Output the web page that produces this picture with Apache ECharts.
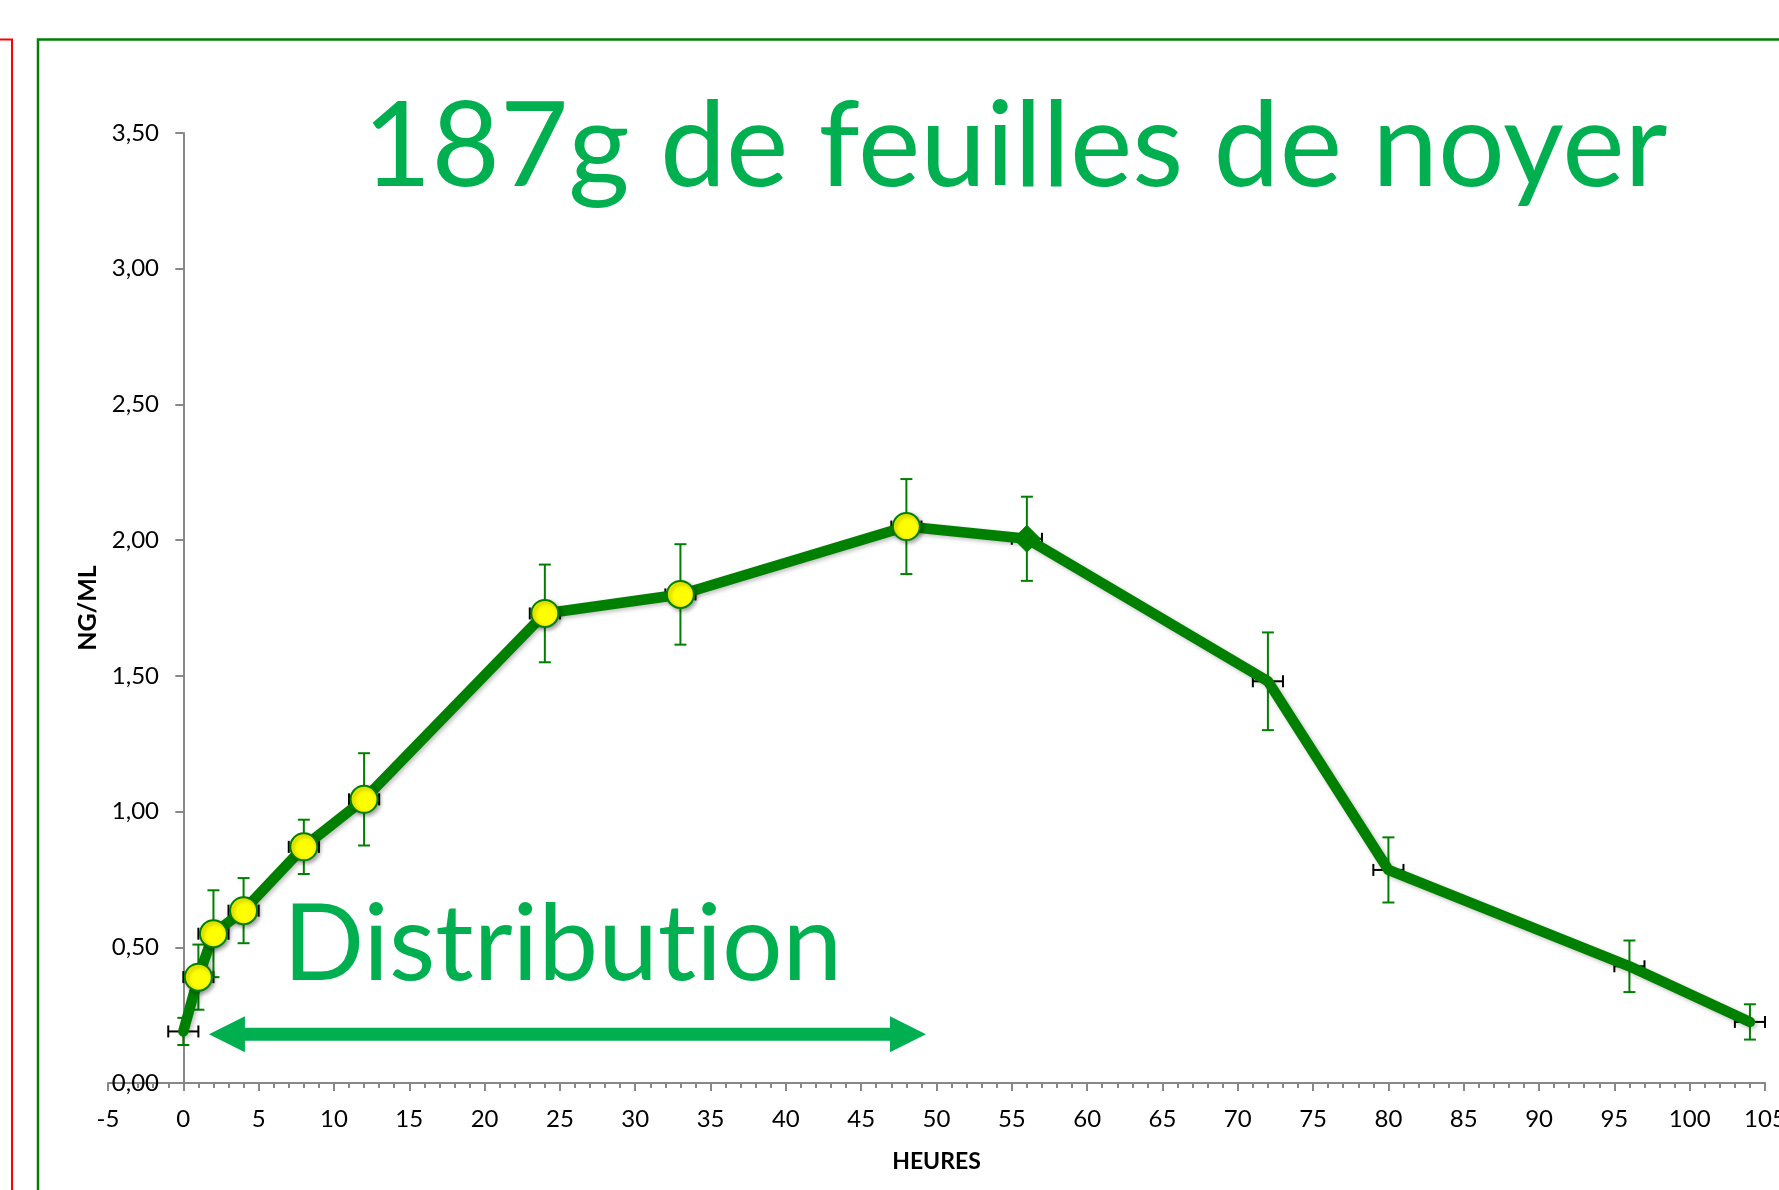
<!DOCTYPE html>
<html>
<head>
<meta charset="utf-8">
<script src="https://cdn.jsdelivr.net/npm/echarts@6/dist/echarts.min.js"></script>
<style>
  html, body { margin: 0; padding: 0; background: #fff; }
  #chart { width: 1779px; height: 1190px; }
</style>
</head>
<body>
<div id="chart"></div>
<script>
// données
var hours = [0, 1, 2, 4, 8, 12, 24, 33, 48, 56, 72, 80, 96, 104];
var conc = [0.19, 0.39, 0.55, 0.635, 0.87, 1.045, 1.73, 1.80, 2.05, 2.005, 1.48, 0.785, 0.43, 0.225];
var errConc = [0.05, 0.12, 0.16, 0.12, 0.10, 0.17, 0.18, 0.185, 0.175, 0.155, 0.18, 0.12, 0.095, 0.065];
var errHours = [1, 1, 1, 1, 1, 1, 1, 1, 1, 1, 1, 1, 1, 1];
var markers = ['none', 'circle', 'circle', 'circle', 'circle', 'circle', 'circle', 'circle', 'circle', 'diamond', 'none', 'none', 'none', 'none'];

// flèche "Distribution" (en heures / ng/ml)
var arrowSpan = [1.7, 49.3];
var arrowLevel = 0.18;

var titleText = '187g de feuilles de noyer';
// \u200C : évite la ligature "ti" de Lato
var noteText = 'Distribut\u200Cion';

var FONT = 'Lato, "Liberation Sans", sans-serif';
var GREEN = '#008000';
var LIGHT = '#00B050';

var myChart = echarts.init(document.getElementById('chart'));

var points = hours.map(function (h, i) {
    var item = { value: [h, conc[i]], symbol: markers[i] };
    if (markers[i] === 'circle') {
        item.symbolSize = 27;
        item.itemStyle = { color: '#FFFF00', borderColor: GREEN, borderWidth: 2,
            shadowBlur: 4, shadowOffsetX: 2, shadowOffsetY: 2, shadowColor: 'rgba(0,0,0,0.35)' };
    } else if (markers[i] === 'diamond') {
        item.symbolSize = 27;
        item.itemStyle = { color: GREEN, borderColor: GREEN };
    }
    return item;
});

var errData = hours.map(function (h, i) {
    return [h, conc[i], errHours[i], errConc[i]];
});

function renderErr(params, api) {
    var x = api.value(0), y = api.value(1), ex = api.value(2), ey = api.value(3);
    var top = api.coord([x, y + ey]);
    var bot = api.coord([x, y - ey]);
    var lft = api.coord([x - ex, y]);
    var rgt = api.coord([x + ex, y]);
    var c = 6;
    var gs = { stroke: GREEN, lineWidth: 2 };
    var ks = { stroke: '#000', lineWidth: 2 };
    return {
        type: 'group',
        children: [
            { type: 'line', shape: { x1: lft[0], y1: lft[1], x2: rgt[0], y2: rgt[1] }, style: ks },
            { type: 'line', shape: { x1: lft[0], y1: lft[1] - c, x2: lft[0], y2: lft[1] + c }, style: ks },
            { type: 'line', shape: { x1: rgt[0], y1: rgt[1] - c, x2: rgt[0], y2: rgt[1] + c }, style: ks },
            { type: 'line', shape: { x1: top[0], y1: top[1], x2: bot[0], y2: bot[1] }, style: gs },
            { type: 'line', shape: { x1: top[0] - c, y1: top[1], x2: top[0] + c, y2: top[1] }, style: gs },
            { type: 'line', shape: { x1: bot[0] - c, y1: bot[1], x2: bot[0] + c, y2: bot[1] }, style: gs }
        ]
    };
}

function renderArrow(params, api) {
    var a = api.coord([api.value(0), api.value(2)]);
    var b = api.coord([api.value(1), api.value(2)]);
    var head = 36, half = 18, sh = 6.5;
    var y = a[1];
    return {
        type: 'polygon',
        shape: {
            points: [
                [a[0], y], [a[0] + head, y - half], [a[0] + head, y - sh],
                [b[0] - head, y - sh], [b[0] - head, y - half], [b[0], y],
                [b[0] - head, y + half], [b[0] - head, y + sh], [a[0] + head, y + sh],
                [a[0] + head, y + half]
            ]
        },
        style: { fill: LIGHT }
    };
}

var option = {
    animation: false,
    backgroundColor: '#fff',
    textStyle: { fontFamily: FONT },
    grid: { left: 108, right: 14, top: 133, bottom: 107, containLabel: false, outerBoundsMode: 'none' },
    xAxis: {
        type: 'value',
        min: -5, max: 105, interval: 5,
        name: 'HEURES',
        nameLocation: 'middle',
        nameGap: 67,
        nameTextStyle: { fontFamily: FONT, fontWeight: 'bold', fontSize: 23, color: '#000' },
        axisLine: { lineStyle: { color: '#888', width: 2 } },
        axisTick: { length: 8, lineStyle: { color: '#888', width: 2 } },
        minorTick: { show: true, splitNumber: 5, length: 5, lineStyle: { color: '#888', width: 2 } },
        axisLabel: { fontFamily: FONT, fontSize: 24, color: '#000', margin: 24 },
        splitLine: { show: false }
    },
    yAxis: {
        type: 'value',
        min: 0, max: 3.5, interval: 0.5,
        name: 'NG/ML',
        nameLocation: 'middle',
        nameGap: 4,
        nameRotate: 90,
        nameTextStyle: { fontFamily: FONT, fontWeight: 'bold', fontSize: 25, color: '#000' },
        axisLine: { show: true, onZero: true, lineStyle: { color: '#888', width: 2 } },
        axisTick: { show: true, length: 8, lineStyle: { color: '#888', width: 2 } },
        axisLabel: {
            fontFamily: FONT, fontSize: 24, color: '#000', margin: -51,
            formatter: function (v) { return v.toFixed(2).replace('.', ','); }
        },
        splitLine: { show: false }
    },
    graphic: [
        { type: 'rect', shape: { x: -20, y: 39.5, width: 32, height: 1300 },
          style: { fill: 'none', stroke: '#FF0000', lineWidth: 2 }, silent: true },
        { type: 'rect', shape: { x: 38, y: 39.5, width: 1800, height: 1300 },
          style: { fill: 'none', stroke: GREEN, lineWidth: 2.5 }, silent: true },
        { type: 'text', x: 363, y: 148, z: 10,
          style: { text: titleText, font: '118px ' + FONT, fill: LIGHT, verticalAlign: 'middle' } },
        { type: 'text', x: 283, y: 945, z: 10,
          style: { text: noteText, font: '107px ' + FONT, fill: LIGHT, verticalAlign: 'middle' } }
    ],
    series: [
        {
            type: 'custom',
            name: 'erreurs',
            renderItem: renderErr,
            data: errData,
            z: 1,
            silent: true
        },
        {
            type: 'line',
            name: 'concentration',
            data: points,
            lineStyle: { color: GREEN, width: 10.5, cap: 'round', join: 'round',
                shadowBlur: 4, shadowOffsetX: 2, shadowOffsetY: 2, shadowColor: 'rgba(0,0,0,0.25)' },
            itemStyle: { color: GREEN },
            showSymbol: true,
            z: 3
        },
        {
            type: 'custom',
            name: 'fleche',
            renderItem: renderArrow,
            data: [[arrowSpan[0], arrowSpan[1], arrowLevel]],
            z: 2,
            silent: true
        }
    ]
};

myChart.setOption(option);
</script>
</body>
</html>
